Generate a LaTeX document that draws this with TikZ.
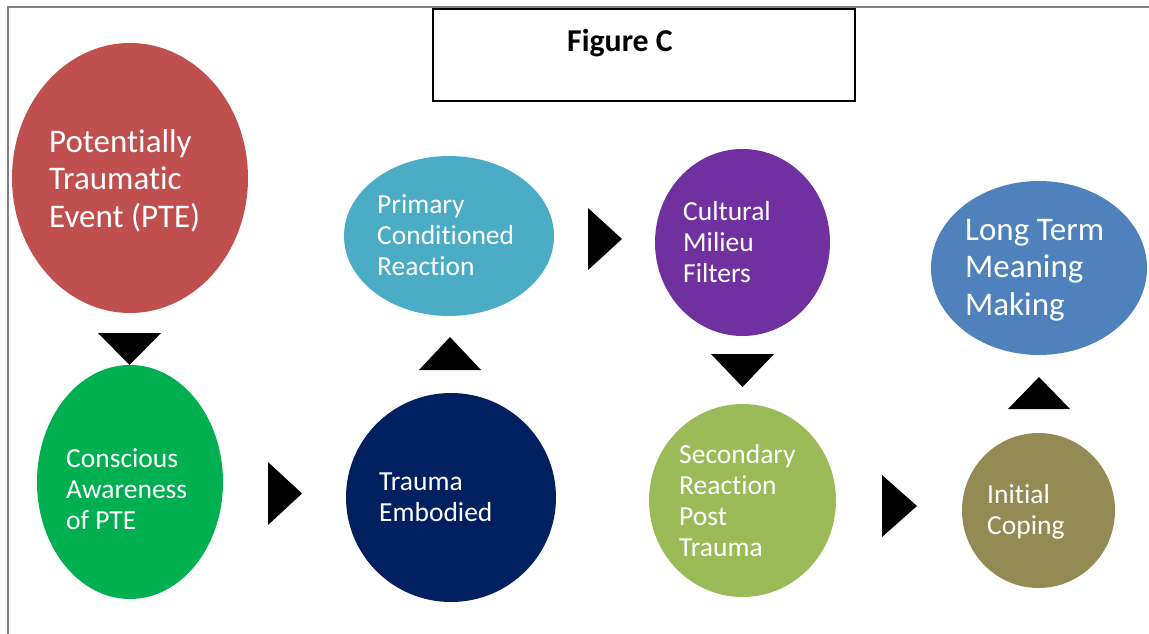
\documentclass[tikz,border=0pt]{standalone}
\usepackage{fontspec}
\setmainfont[Ligatures=NoCommon]{Carlito}
\usetikzlibrary{shapes.geometric}
\begin{document}
\begin{tikzpicture}[x=1pt,y=-1pt,
  blob/.style={ellipse, draw=none, inner sep=0pt},
  % labels are anchored at the baseline of their last line
  label/.style={anchor=base west, inner sep=0pt, align=left, text=white},
  small/.style={font=\fontsize{27.5}{31}\selectfont},
  big/.style={font=\fontsize{33}{37.5}\selectfont},
  arrowhead/.style={fill=black, draw=none}]
\definecolor{cRed}{HTML}{C0504D}
\definecolor{cGreen}{HTML}{00B050}
\definecolor{cNavy}{HTML}{002060}
\definecolor{cTeal}{HTML}{4BACC6}
\definecolor{cPurple}{HTML}{7030A0}
\definecolor{cLime}{HTML}{9BBB59}
\definecolor{cOlive}{HTML}{948A54}
\definecolor{cBlue}{HTML}{4F81BD}
\definecolor{cFrame}{HTML}{808080}

\useasboundingbox (0,0) rectangle (1149,634);

% page frame (top and left edges)
\draw[cFrame, line width=1.5pt] (8,634) -- (8,7) -- (1149,7);

% title box
\node[draw=black, line width=2pt, minimum width=422pt, minimum height=92pt, inner sep=0pt] (title) at (644,55) {};
\node[anchor=base west, inner sep=0pt, font=\fontsize{31.8}{36}\selectfont\bfseries] (titletext) at (567,52) {Figure C};

% stages
\node[blob, fill=cRed,    minimum width=236pt, minimum height=270pt] (pte) at (130,178) {};
\node[blob, fill=cGreen,  minimum width=186pt, minimum height=234pt] (caw) at (130,482) {};
\node[blob, fill=cNavy,   minimum width=210pt, minimum height=209pt] (emb) at (451,497.5) {};
\node[blob, fill=cTeal,   minimum width=210pt, minimum height=160pt] (pcr) at (449,236) {};
\node[blob, fill=cPurple, minimum width=175pt, minimum height=187pt] (cmf) at (742.5,242.5) {};
\node[blob, fill=cLime,   minimum width=187pt, minimum height=193pt] (srp) at (742.5,500.5) {};
\node[blob, fill=cOlive,  minimum width=153pt, minimum height=155pt] (ic)  at (1038.5,510.5) {};
\node[blob, fill=cBlue,   minimum width=216pt, minimum height=174pt] (ltm) at (1039,268) {};

% stage labels
\node[label, big]   (pteT) at (49,227)  {Potentially\\Traumatic\\Event (PTE)};
\node[label, small] (cawT) at (66,529)  {Conscious\\Awareness\\of PTE};
\node[label, small] (embT) at (379,521) {Trauma\\Embodied};
\node[label, small] (pcrT) at (377,275) {Primary\\Conditioned\\Reaction};
\node[label, small] (cmfT) at (683,282) {Cultural\\Milieu\\Filters};
\node[label, small] (srpT) at (679,556) {Secondary\\Reaction\\Post\\Trauma};
\node[label, small] (icT)  at (987,534) {Initial\\Coping};
\node[label, big]   (ltmT) at (965,315) {Long Term\\Meaning\\Making};

% flow arrowheads between stages
\fill[arrowhead] (98,333) -- (161,333) -- (129.5,365) -- cycle;
\fill[arrowhead] (268,462) -- (268,525) -- (302,493.5) -- cycle;
\fill[arrowhead] (419,370) -- (481,370) -- (450,337) -- cycle;
\fill[arrowhead] (588,208) -- (588,270) -- (622,239) -- cycle;
\fill[arrowhead] (711,354) -- (774,354) -- (742.5,387) -- cycle;
\fill[arrowhead] (882,475) -- (882,537) -- (917,506) -- cycle;
\fill[arrowhead] (1008,409) -- (1070,409) -- (1039,377) -- cycle;
\end{tikzpicture}
\end{document}
